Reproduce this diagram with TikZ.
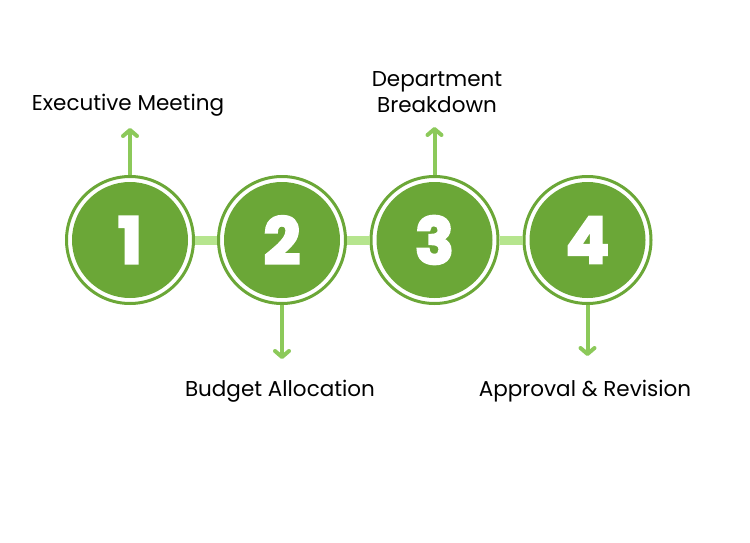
\documentclass[tikz,border=0pt]{standalone}
\usepackage{fontspec}
\setmainfont{Poppins}
\font\numfont="Poppins/B:embolden=4" at 64pt
\usetikzlibrary{arrows.meta}
\definecolor{dgreen}{HTML}{6BA737}
\definecolor{agreen}{HTML}{8CC95A}
\definecolor{lgreen}{HTML}{B6E58E}
\tikzset{
  ring/.style={circle, draw=dgreen, line width=3pt, minimum size=127pt, inner sep=0pt},
  disc/.style={circle, fill=dgreen, minimum size=116pt, inner sep=0pt, text=white, font=\numfont},
  bar/.style={lgreen, line width=9pt},
  arr/.style={agreen, line width=4pt, -{Straight Barb[length=6pt,width=14pt,line cap=round,line join=round]}},
  lbl/.style={font=\fontsize{21.5}{26}\selectfont, text=black, align=center, inner sep=0pt}
}
\begin{document}
\begin{tikzpicture}[x=1pt,y=-1pt]
\useasboundingbox (0,0) rectangle (750,543);
\foreach \i/\x in {1/130,2/282,3/434.5,4/587.5}{
  \node[ring] (r\i) at (\x,240) {};
}
\draw[bar] (r1.east) -- (r2.west);
\draw[bar] (r2.east) -- (r3.west);
\draw[bar] (r3.east) -- (r4.west);
\foreach \i/\x in {1/130,2/282,3/434.5,4/587.5}{
  \node[disc] (n\i) at (\x,240) {\i};
}
\coordinate (t1) at (130,128);
\coordinate (t2) at (282,359);
\coordinate (t3) at (434.5,127);
\coordinate (t4) at (587.5,356);
\draw[arr] (r1.north) -- (t1);
\draw[arr] (r2.south) -- (t2);
\draw[arr] (r3.north) -- (t3);
\draw[arr] (r4.south) -- (t4);
\node[lbl] (l1) at (128,105) {Executive Meeting};
\node[lbl] (l2) at (280,391) {Budget Allocation};
\node[lbl] (l3) at (437,92) {Department\\Breakdown};
\node[lbl] (l4) at (585,391) {Approval \& Revision};
\end{tikzpicture}
\end{document}
